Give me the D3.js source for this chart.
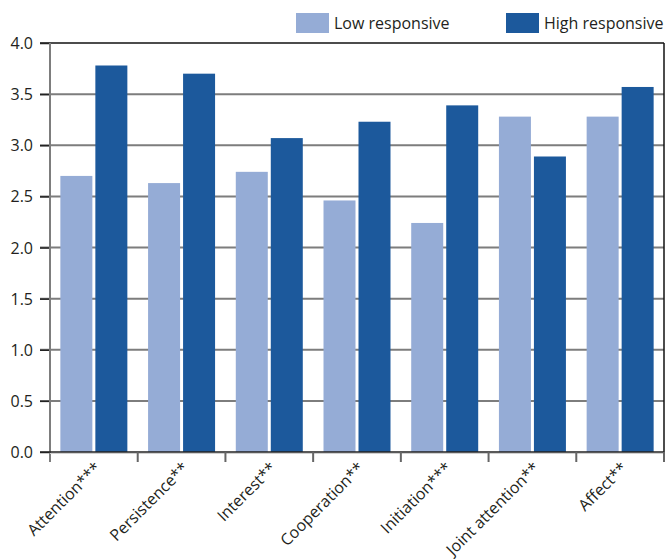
<!DOCTYPE html>
<html>
<head>
<meta charset="utf-8">
<script src="https://cdn.jsdelivr.net/npm/d3@7/dist/d3.min.js"></script>
<style>
  html, body { margin: 0; padding: 0; background: #fff; }
  svg { display: block; }
  text { font-family: "Open Sans", "Noto Sans", sans-serif; fill: #231f20; }
</style>
</head>
<body>
<svg id="chart" width="666" height="559"></svg>
<script>
// Mean ratings per engagement measure, by group
const categories = ["Attention***", "Persistence**", "Interest**", "Cooperation**", "Initiation***", "Joint attention**", "Affect**"];
const seriesNames = ["Low responsive", "High responsive"];
const lowValues  = [2.70, 2.63, 2.74, 2.46, 2.24, 3.28, 3.28];
const highValues = [3.78, 3.70, 3.07, 3.23, 3.39, 2.89, 3.57];
const yTicks = [0, 0.5, 1.0, 1.5, 2.0, 2.5, 3.0, 3.5, 4.0];
const colors = ["#95acd6", "#1c599c"];

const svg = d3.select("#chart");
const plotLeft = 50, plotRight = 664, plotTop = 43, plotBottom = 452;

const x0 = d3.scaleBand().domain(categories).range([plotLeft, plotRight]).paddingInner(0).paddingOuter(0);
const x1 = d3.scaleBand().domain(seriesNames).range([0, x0.bandwidth()])
  .paddingInner(3 / 35).paddingOuter(0.296);
const y = d3.scaleLinear().domain([0, 4]).range([plotBottom, plotTop]);

const rows = categories.map((c, i) => ({ cat: c, vals: [lowValues[i], highValues[i]] }));

// horizontal grid lines
svg.append("g").selectAll("line").data(yTicks.filter(t => t > 0 && t < 4)).join("line")
  .attr("x1", plotLeft - 10).attr("x2", plotRight)
  .attr("y1", d => y(d)).attr("y2", d => y(d))
  .attr("stroke", "#7d7d7d").attr("stroke-width", 2);

// bars
svg.append("g").selectAll("g").data(rows).join("g")
  .attr("transform", d => `translate(${x0(d.cat)},0)`)
  .selectAll("rect").data(d => d.vals.map((v, k) => ({ name: seriesNames[k], v, k })))
  .join("rect")
  .attr("x", d => x1(d.name))
  .attr("width", x1.bandwidth())
  .attr("y", d => y(d.v))
  .attr("height", d => y(0) - y(d.v))
  .attr("fill", d => colors[d.k]);

// frame: top and right borders
svg.append("line").attr("x1", plotLeft - 10).attr("x2", plotRight).attr("y1", y(4)).attr("y2", y(4))
  .attr("stroke", "#111").attr("stroke-width", 1.5);
svg.append("line").attr("x1", plotRight).attr("x2", plotRight).attr("y1", y(4)).attr("y2", y(0))
  .attr("stroke", "#111").attr("stroke-width", 1.5);

// left axis
const yAxis = d3.axisLeft(y).tickValues(yTicks).tickFormat(d3.format(".1f")).tickSize(10).tickSizeOuter(0);
const gy = svg.append("g").attr("transform", `translate(${plotLeft},0)`).call(yAxis);
gy.select(".domain").remove();
gy.selectAll(".tick line").attr("stroke", "#222").attr("stroke-width", 1.5);
gy.selectAll(".tick text").attr("x", -17).attr("dy", "0.35em")
  .style("font-size", "16px").style("font-family", "\"Open Sans\", sans-serif").attr("fill", "#231f20");
svg.append("line").attr("x1", plotLeft).attr("x2", plotLeft).attr("y1", y(4)).attr("y2", y(0) + 10)
  .attr("stroke", "#7d7d7d").attr("stroke-width", 2);

// zero baseline
svg.append("line").attr("x1", plotLeft - 10).attr("x2", plotRight).attr("y1", y(0)).attr("y2", y(0))
  .attr("stroke", "#222").attr("stroke-width", 1.5);
svg.append("line").attr("x1", plotLeft).attr("x2", plotRight).attr("y1", y(0) + 1.5).attr("y2", y(0) + 1.5)
  .attr("stroke", "#d0d0d0").attr("stroke-width", 1);

// category separator ticks
const bounds = categories.map(c => x0(c)).concat([plotRight]);
svg.append("g").selectAll("line").data(bounds.slice(1)).join("line")
  .attr("x1", d => d).attr("x2", d => d)
  .attr("y1", y(0)).attr("y2", y(0) + 10)
  .attr("stroke", "#666").attr("stroke-width", 2);

// rotated category labels
svg.append("g").selectAll("text").data(categories).join("text")
  .attr("transform", d => `translate(${x0(d) + x0.bandwidth() / 2 + 8},${y(0) + 17}) rotate(-45)`)
  .attr("text-anchor", "end")
  .style("font-size", "16px")
  .text(d => d);

// legend
const legendX = [296, 506];
const lg = svg.append("g").selectAll("g").data(seriesNames).join("g")
  .attr("transform", (d, i) => `translate(${legendX[i]},13)`);
lg.append("rect").attr("width", 33).attr("height", 20).attr("fill", (d, i) => colors[i]);
lg.append("text").attr("x", 38).attr("y", 16).style("font-size", "16px").text(d => d);
</script>
</body>
</html>
